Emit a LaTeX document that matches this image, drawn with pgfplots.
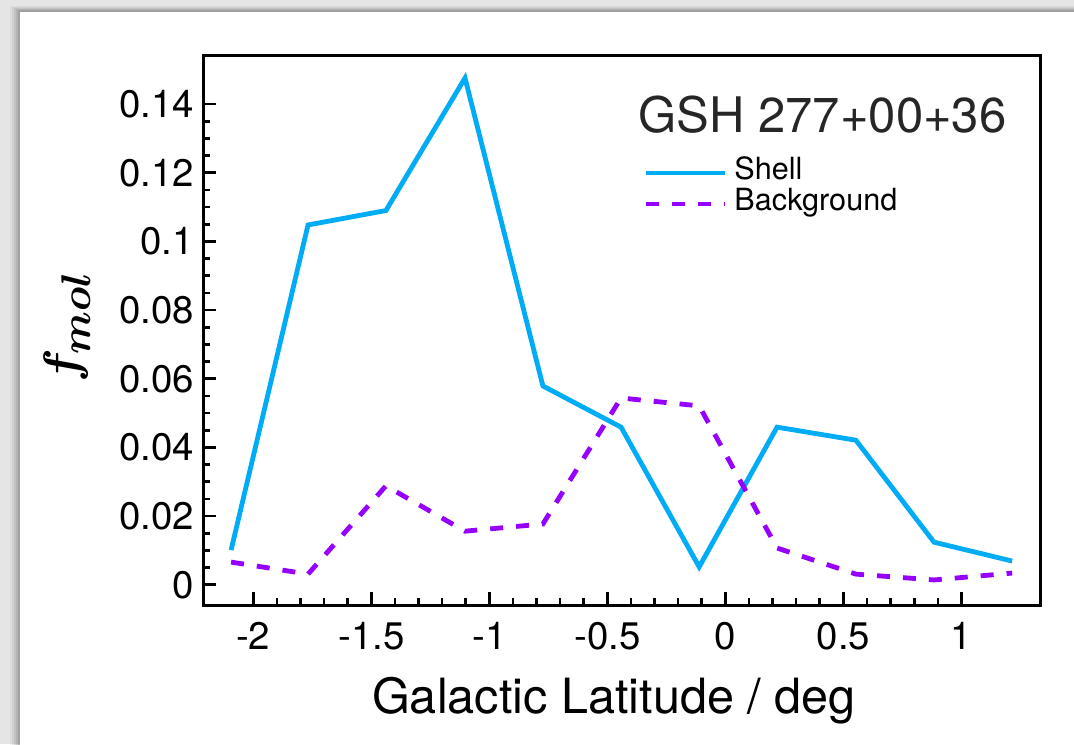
\documentclass[border=0pt]{standalone}
\usepackage{fontspec}
\setmainfont{TeX Gyre Heros}
\usepackage{bm}
\usepackage{pgfplots}
\pgfplotsset{compat=1.18}
\definecolor{shellc}{RGB}{0,172,245}
\definecolor{bgc}{RGB}{150,0,255}
\begin{document}
\begin{tikzpicture}
\useasboundingbox (0pt,0pt) rectangle (537pt,-372pt);
\begin{scope}
\clip (0pt,0pt) rectangle (537pt,-372pt);
\fill[black!10] (0pt,0pt) rectangle (537pt,-372pt);
\fill[black,opacity=0.04] (5pt,-3pt) rectangle (560pt,-380pt);
\fill[black,opacity=0.05] (6pt,-3.5pt) rectangle (560pt,-380pt);
\fill[black,opacity=0.06] (7pt,-4pt) rectangle (560pt,-380pt);
\fill[black,opacity=0.08] (8pt,-4.5pt) rectangle (560pt,-380pt);
\fill[black,opacity=0.10] (9pt,-5pt) rectangle (560pt,-380pt);
\fill[white] (10pt,-6pt) rectangle (560pt,-380pt);
\end{scope}
\begin{axis}[
  at={(101.5pt,-302.5pt)}, anchor=south west,
  scale only axis, width=418.5pt, height=275pt,
  xmin=-2.213, xmax=1.333, ymin=-0.0059, ymax=0.1543,
  axis line style={line width=1.5pt},
  tick style={line width=1.3pt, black},
  major tick length=6.5pt, minor tick length=3.5pt,
  xtick pos=bottom, ytick pos=left, tick align=inside,
  xtick={-2,-1.5,-1,-0.5,0,0.5,1},
  minor x tick num=4,
  ytick={0,0.02,0.04,0.06,0.08,0.1,0.12,0.14},
  yticklabels={0,0.02,0.04,0.06,0.08,0.1,0.12,0.14},
  xticklabels={-2,-1.5,-1,-0.5,0,0.5,1},
  minor y tick num=3,
  ticklabel style={font=\fontsize{19.2}{21}\selectfont},
  xticklabel style={yshift=-5pt},
  yticklabel style={xshift=-1pt},
  /pgf/number format/assume math mode=true,
  xlabel={Galactic Latitude / deg},
  xlabel style={font=\fontsize{24.3}{28}\selectfont, at={(axis description cs:0.491,-0.173)}, anchor=center},
  ylabel={$\bm{f_{mol}}$},
  ylabel style={font=\fontsize{32}{34}\selectfont, at={(axis description cs:-0.162,0.505)}, anchor=center},
  legend style={draw=none, fill=none, at={(axis description cs:0.526,0.8145)}, anchor=north west,
    font=\fontsize{15.3}{15}\selectfont, inner sep=0pt, row sep=0pt, cells={anchor=west},
    nodes={inner sep=0pt, inner xsep=3.5pt, text height=11pt, text depth=4.5pt}},
  legend image code/.code={\draw[#1] (0pt,0pt) -- (39.5pt,0pt);},
  clip=false,
]
\addplot[shellc, line width=2.4pt] coordinates {
(-2.094,0.0101) (-1.768,0.1048) (-1.438,0.1090) (-1.103,0.1476) (-0.773,0.0579)
(-0.442,0.0459) (-0.111,0.0052) (0.219,0.0459) (0.553,0.0421) (0.884,0.0124) (1.215,0.0069)};
\addlegendentry{Shell}
\addplot[bgc, line width=2.4pt, dash pattern=on 6.5pt off 6.5pt] coordinates {
(-2.094,0.0066) (-1.768,0.0031) (-1.438,0.0288) (-1.103,0.0156) (-0.773,0.0177)
(-0.442,0.0544) (-0.111,0.0521) (0.219,0.0107) (0.553,0.0031) (0.884,0.0014) (1.215,0.0034)};
\addlegendentry{Background}
\node[anchor=base west, font=\fontsize{24.5}{28}\selectfont, text=black!85, inner sep=0pt] at (axis description cs:0.52,0.86) {GSH 277+00+36};
\end{axis}
\end{tikzpicture}
\end{document}
